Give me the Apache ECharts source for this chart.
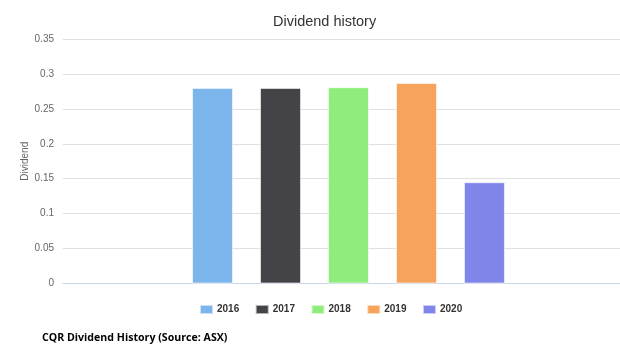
<!DOCTYPE html>
<html>
<head>
<meta charset="utf-8">
<script src="https://cdn.jsdelivr.net/npm/echarts@6/dist/echarts.min.js"></script>
<style>
html,body{margin:0;padding:0;background:#fff;}
#chart{width:620px;height:359px;}
</style>
</head>
<body>
<div id="chart"></div>
<script>
var categories = [''];
var seriesNames = ['2016', '2017', '2018', '2019', '2020'];
var dividends = [0.28, 0.28, 0.281, 0.287, 0.145];
var seriesColors = ['#7cb5ec', '#434348', '#90ed7d', '#f7a35c', '#8085e9'];
var yTicks = { min: 0, max: 0.35, interval: 0.05 };

var chart = echarts.init(document.getElementById('chart'), null, { renderer: 'canvas' });

var series = seriesNames.map(function (name, i) {
  return {
    name: name,
    type: 'bar',
    data: [dividends[i]],
    barWidth: 41,
    barGap: '65.8%',
    itemStyle: { color: seriesColors[i], borderColor: 'rgba(255,255,255,0.6)', borderWidth: 1 },
    emphasis: { disabled: true }
  };
});

chart.setOption({
  animation: false,
  color: seriesColors,
  title: {
    text: 'Dividend history',
    left: 268,
    top: 9,
    textStyle: { fontFamily: 'Liberation Sans, Arial, sans-serif', fontSize: 14.5, fontWeight: 'normal', color: '#333333' }
  },
  graphic: [{
    type: 'text',
    left: 42,
    top: 332,
    scaleX: 0.965,
    style: {
      text: 'CQR Dividend History (Source: ASX)',
      font: 'bold 11px "Open Sans", sans-serif',
      fill: '#000000'
    }
  }],
  legend: {
    data: seriesNames,
    bottom: 39,
    left: 194,
    icon: 'rect',
    itemWidth: 13,
    itemHeight: 9,
    itemGap: 15.5,
    textStyle: { fontFamily: 'Liberation Sans, Arial, sans-serif', fontSize: 10, fontWeight: 'bold', color: '#333333', padding: [0, 0, 0, -1] }
  },
  grid: { left: 63, right: -14, top: 39, bottom: 75.5, containLabel: false, outerBoundsMode: 'none' },
  xAxis: {
    type: 'category',
    data: categories,
    axisLine: { lineStyle: { color: '#ccd6eb' } },
    axisTick: { show: false },
    axisLabel: { show: false },
    splitLine: { show: false }
  },
  yAxis: {
    type: 'value',
    min: yTicks.min,
    max: yTicks.max,
    interval: yTicks.interval,
    name: 'Dividend',
    nameLocation: 'middle',
    nameGap: 33,
    nameMoveOverlap: false,
    nameTextStyle: { fontFamily: 'Liberation Sans, Arial, sans-serif', fontSize: 10, color: '#666666' },
    axisLine: { show: false },
    axisTick: { show: false },
    axisLabel: { fontFamily: 'Liberation Sans, Arial, sans-serif', fontSize: 10, color: '#666666', margin: 9 },
    splitLine: { lineStyle: { color: '#e0e0e0', width: 1 } }
  },
  series: series
});
</script>
</body>
</html>
